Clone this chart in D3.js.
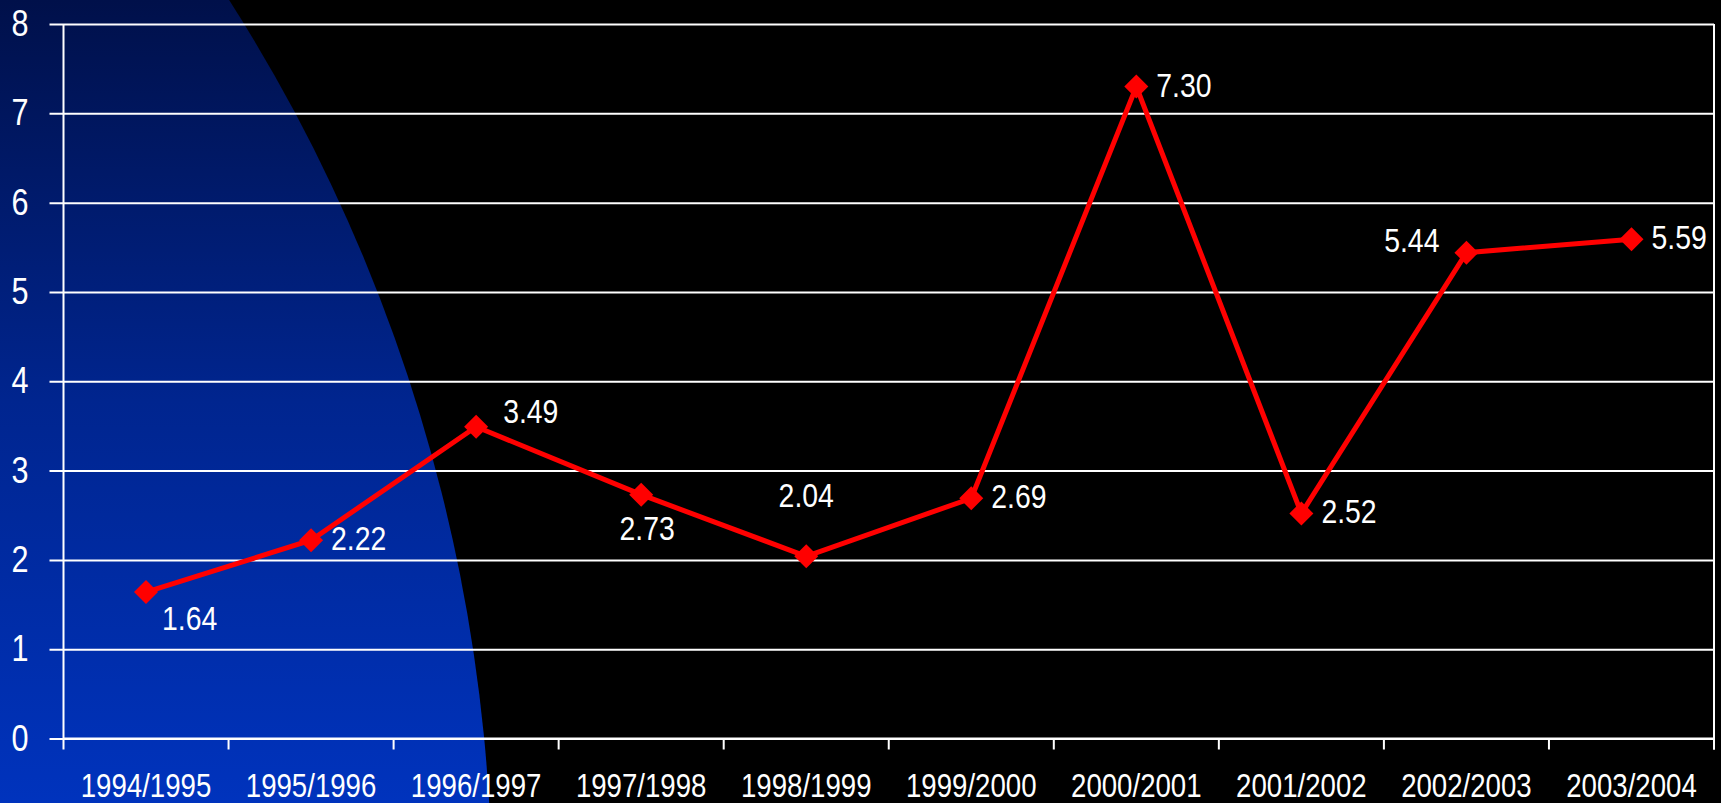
<!DOCTYPE html>
<html>
<head>
<meta charset="utf-8">
<script src="https://cdn.jsdelivr.net/npm/d3@7/dist/d3.min.js"></script>
<style>
  html, body { margin: 0; padding: 0; background: #000; }
  svg { display: block; }
  text { font-family: "Liberation Sans", Arial, sans-serif; fill: #fff; }
</style>
</head>
<body>
<script>
// Season labels along the category axis
const seasons = ["1994/1995", "1995/1996", "1996/1997", "1997/1998", "1998/1999",
                 "1999/2000", "2000/2001", "2001/2002", "2002/2003", "2003/2004"];
// Value for each season
const values = [1.64, 2.22, 3.49, 2.73, 2.04, 2.69, 7.30, 2.52, 5.44, 5.59];
// Where each value label sits relative to its marker
const labelPlacement = ["belowRight", "right", "aboveRight", "below", "above",
                        "right", "right", "right", "aboveLeft", "right"];
// Value axis ticks
const yTicks = [0, 1, 2, 3, 4, 5, 6, 7, 8];

const W = 1721, H = 803;
const plot = { left: 63.5, right: 1714, top: 24, bottom: 738.5 };

const svg = d3.select("body").append("svg").attr("width", W).attr("height", H);

// Squeeze a text selection horizontally to a narrow face
function condense(sel, k) {
  sel.each(function () {
    const w = this.getComputedTextLength();
    d3.select(this).attr("textLength", w * k).attr("lengthAdjust", "spacingAndGlyphs");
  });
}

// Background: black with a large blue disc sweeping in from the left
const defs = svg.append("defs");
const grad = defs.append("linearGradient").attr("id", "discFill")
  .attr("gradientUnits", "userSpaceOnUse").attr("x1", 0).attr("y1", 0).attr("x2", 0).attr("y2", H);
grad.append("stop").attr("offset", 0).attr("stop-color", "#00104a");
grad.append("stop").attr("offset", 0.5).attr("stop-color", "#00258f");
grad.append("stop").attr("offset", 1).attr("stop-color", "#0033bd");

svg.append("rect").attr("width", W).attr("height", H).attr("fill", "#000");
svg.append("circle").attr("cx", -1180).attr("cy", 900).attr("r", 1672).attr("fill", "url(#discFill)");

const x = d3.scaleBand().domain(seasons).range([plot.left, plot.right]);
const y = d3.scaleLinear().domain([0, 8]).range([plot.bottom, plot.top]);

// Horizontal gridlines with short ticks left of the axis, and value labels
const yAxis = d3.axisLeft(y).tickValues(yTicks).tickFormat(d3.format("d"))
  .tickSize(14).tickPadding(21);
const gy = svg.append("g").attr("transform", `translate(${plot.left},0)`).call(yAxis);
gy.select(".domain").remove();
gy.selectAll(".tick line").attr("x2", -14).attr("x1", plot.right - plot.left)
  .attr("stroke", "#fff").attr("stroke-width", 2);
gy.selectAll(".tick text").attr("font-size", 36).attr("fill", "#fff")
  .attr("font-family", "'Liberation Sans', Arial, sans-serif").call(condense, 0.85);

// Left and right frame lines
svg.append("line").attr("x1", plot.left).attr("x2", plot.left)
  .attr("y1", plot.top).attr("y2", plot.bottom).attr("stroke", "#fff").attr("stroke-width", 2);
svg.append("line").attr("x1", plot.right).attr("x2", plot.right)
  .attr("y1", plot.top).attr("y2", plot.bottom + 11).attr("stroke", "#fff").attr("stroke-width", 2);

// Category axis: ticks on band boundaries, labels centred in each band
const gx = svg.append("g").attr("transform", `translate(0,${plot.bottom})`);
gx.append("line").attr("x1", plot.left).attr("x2", plot.right)
  .attr("stroke", "#fff").attr("stroke-width", 2);
const boundaries = seasons.map(s => x(s)).concat([x.range()[1]]);
gx.selectAll("line.tick").data(boundaries).join("line").attr("class", "tick")
  .attr("x1", d => d).attr("x2", d => d).attr("y1", 0).attr("y2", 11)
  .attr("stroke", "#fff").attr("stroke-width", 2);
gx.selectAll("text").data(seasons).join("text")
  .attr("x", d => x(d) + x.bandwidth() / 2).attr("y", 58)
  .attr("text-anchor", "middle").attr("font-size", 32.5).text(d => d)
  .call(condense, 0.85);

// Series line
const pts = seasons.map((s, i) => ({ s, v: values[i], p: labelPlacement[i] }));
const cx = d => x(d.s) + x.bandwidth() / 2;
svg.append("path").datum(pts)
  .attr("d", d3.line().x(cx).y(d => y(d.v)))
  .attr("fill", "none").attr("stroke", "#ff0000").attr("stroke-width", 5)
  .attr("stroke-linejoin", "miter");

// Diamond markers
const h = 12;
svg.selectAll("path.marker").data(pts).join("path").attr("class", "marker")
  .attr("transform", d => `translate(${cx(d)},${y(d.v)})`)
  .attr("d", `M0,${-h}L${h},0L0,${h}L${-h},0Z`).attr("fill", "#ff0000");

// Value labels
const offsets = {
  right:      { dx: 20,  dy: 10,  anchor: "start" },
  aboveRight: { dx: 27,  dy: -4,  anchor: "start" },
  belowRight: { dx: 16,  dy: 38,  anchor: "start" },
  below:      { dx: 6,   dy: 45,  anchor: "middle" },
  above:      { dx: 0,   dy: -49, anchor: "middle" },
  aboveLeft:  { dx: -27, dy: -1,  anchor: "end" }
};
svg.selectAll("text.value").data(pts).join("text").attr("class", "value")
  .attr("x", d => cx(d) + offsets[d.p].dx)
  .attr("y", d => y(d.v) + offsets[d.p].dy)
  .attr("text-anchor", d => offsets[d.p].anchor)
  .attr("font-size", 33)
  .text(d => d3.format(".2f")(d.v))
  .call(condense, 0.86);
</script>
</body>
</html>
